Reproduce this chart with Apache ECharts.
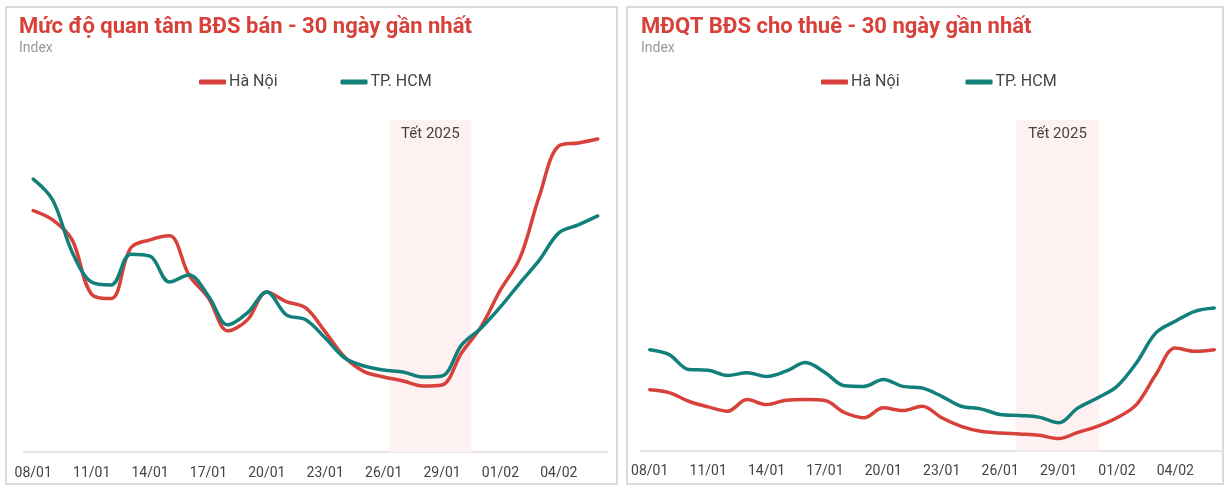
<!DOCTYPE html>
<html>
<head>
<meta charset="utf-8">
<script src="https://cdn.jsdelivr.net/npm/echarts@6/dist/echarts.min.js"></script>
<style>
html,body{margin:0;padding:0;background:#fff;}
#c{width:1226px;height:486px;}
</style>
</head>
<body>
<div id="c"></div>
<script>
// ---- data ----
const dates = ['08/01','09/01','10/01','11/01','12/01','13/01','14/01','15/01','16/01','17/01',
  '18/01','19/01','20/01','21/01','22/01','23/01','24/01','25/01','26/01','27/01',
  '28/01','29/01','30/01','31/01','01/02','02/02','03/02','04/02','05/02','06/02'];
const tickLabels = ['08/01','11/01','14/01','17/01','20/01','23/01','26/01','29/01','01/02','04/02'];
const seriesNames = ['Hà Nội','TP. HCM'];

// Mức độ quan tâm BĐS bán (index)
const saleHN  = [72.7,69.9,63.9,47.5,46.2,61.4,63.9,65.1,53.3,46.4,36.5,39.8,48.2,45.3,43.4,36.2,28.6,24.2,22.6,21.4,19.9,20.2,29.8,37.7,48.8,58.4,77.1,92.2,93.1,94.3];
const saleHCM = [82.2,75.9,60.2,51.2,50.3,59.6,59.0,51.2,53.3,47.0,38.3,41.9,48.2,41.3,39.8,34.3,28.3,25.9,24.7,24.1,22.6,22.9,32.2,37.3,43.7,50.9,57.8,66.0,68.4,71.1];

// MĐQT BĐS cho thuê (index)
const rentHN  = [18.4,17.5,14.9,13.2,11.9,15.4,13.9,15.2,15.4,15.1,11.5,9.9,12.9,12.1,13.4,9.9,7.3,5.8,5.3,5.0,4.6,3.6,5.5,7.3,9.9,13.9,23.0,31.0,30.0,30.5];
const rentHCM = [30.5,29.0,24.5,24.3,22.7,23.5,22.4,24.0,26.6,23.6,19.6,19.4,21.5,19.4,18.9,16.4,13.4,12.6,10.9,10.6,10.1,8.4,12.9,15.9,19.4,26.5,35.6,39.1,42.1,43.1];

// Tết 2025 band (in day-index units)
const tetLeft  = [18.3, 22.5];
const tetRight = [18.8, 23.1];
const tetLabel = 'Tết 2025';

const titles = ['Mức độ quan tâm BĐS bán - 30 ngày gần nhất', 'MĐQT BĐS cho thuê - 30 ngày gần nhất'];
const subtitle = 'Index';

// ---- styles ----
const RED = '#d8403a', TEAL = '#12807a';
const FONT = 'Roboto';
const tickIdx = tickLabels.map(l => dates.indexOf(l));
const pairs = arr => arr.map((v, i) => [i, v]);

function xAxisCfg(gi) {
  return {
    gridIndex: gi, type: 'value', min: -0.5, max: dates.length - 0.5,
    splitLine: { show: false },
    axisLine: { show: true, lineStyle: { color: '#dedede', width: 1.5 } },
    axisTick: { show: false },
    axisLabel: {
      customValues: tickIdx, color: '#444', fontSize: 14, fontFamily: FONT, margin: 14,
      formatter: v => dates[Math.round(v)] || ''
    }
  };
}
function yAxisCfg(gi) {
  return { gridIndex: gi, type: 'value', min: 0, max: 100, show: false, splitLine: { show: false } };
}
function lineSeries(name, color, arr, gi, band) {
  const s = {
    name, type: 'line', xAxisIndex: gi, yAxisIndex: gi, data: pairs(arr),
    smooth: 0.35, showSymbol: false, symbol: 'none',
    lineStyle: { color, width: 3.5, cap: 'round', join: 'round' },
    itemStyle: { color }, z: 3
  };
  if (band) {
    s.markArea = {
      silent: true,
      itemStyle: { color: '#fdf1f1' },
      label: { show: true, position: 'insideTop', distance: 7, color: '#444', fontSize: 15, fontFamily: FONT, formatter: tetLabel },
      data: [[{ xAxis: band[0] }, { xAxis: band[1] }]]
    };
  }
  return s;
}
function titleCfg(text, left) {
  return { text, subtext: subtitle, left, top: 11, itemGap: 3,
    textStyle: { color: RED, fontSize: 22, fontWeight: 'bold', fontFamily: FONT },
    subtextStyle: { color: '#999', fontSize: 14, fontFamily: FONT } };
}
function legendCfg(names, left, gap) {
  return { data: names, left, top: 69, itemGap: gap, itemWidth: 27, itemHeight: 5,
    icon: 'roundRect', formatter: n => n.trim(),
    textStyle: { color: '#444', fontSize: 16, fontFamily: FONT, padding: [0, 0, 0, -2] } };
}

const chart = echarts.init(document.getElementById('c'), null, { renderer: 'canvas' });
chart.setOption({
  backgroundColor: '#fff',
  animation: false,
  title: [titleCfg(titles[0], 14), titleCfg(titles[1], 636)],
  legend: [
    legendCfg(seriesNames, 194, 63),
    legendCfg(seriesNames.map(n => n + ' '), 816, 66)
  ],
  grid: [
    { left: 23.5, right: 1226 - 607.5, top: 120, bottom: 486 - 452 },
    { left: 640, right: 1226 - 1224, top: 120, bottom: 486 - 450.5 }
  ],
  xAxis: [xAxisCfg(0), xAxisCfg(1)],
  yAxis: [yAxisCfg(0), yAxisCfg(1)],
  series: [
    lineSeries(seriesNames[0], RED, saleHN, 0, tetLeft),
    lineSeries(seriesNames[1], TEAL, saleHCM, 0, null),
    lineSeries(seriesNames[0] + ' ', RED, rentHN, 1, tetRight),
    lineSeries(seriesNames[1] + ' ', TEAL, rentHCM, 1, null)
  ],
  graphic: [
    { type: 'rect', shape: { x: 6, y: 7, width: 611, height: 477 }, style: { fill: 'none', stroke: '#cfcfcf', lineWidth: 1.5 }, silent: true },
    { type: 'rect', shape: { x: 627, y: 7, width: 596, height: 477 }, style: { fill: 'none', stroke: '#cfcfcf', lineWidth: 1.5 }, silent: true }
  ]
});
</script>
</body>
</html>
